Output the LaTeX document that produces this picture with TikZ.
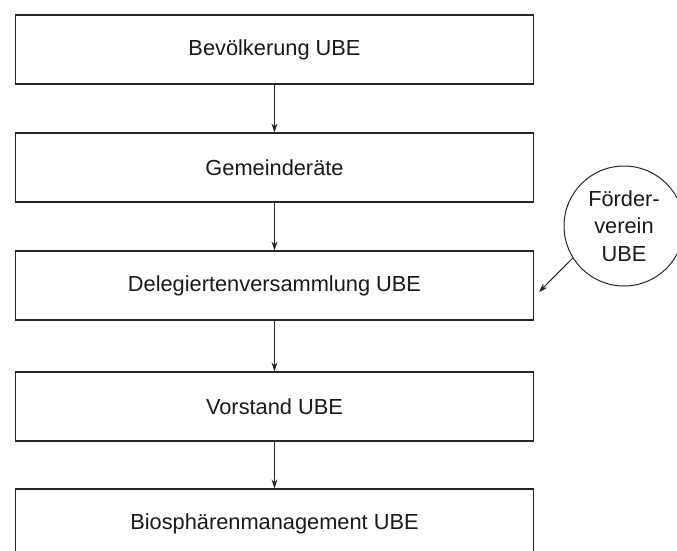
\documentclass[tikz,border=0pt]{standalone}
\usepackage{fontspec}
\setmainfont{Liberation Sans}
\usetikzlibrary{arrows.meta}

\tikzset{
	orgbox/.style={draw=black!85, line width=1.2pt, minimum width=517.6pt, minimum height=69pt, inner sep=0pt, text=black!90, font=\fontsize{21.8}{28}\selectfont},
	vereincircle/.style={draw=black!85, line width=1pt, circle, minimum size=120pt, inner sep=0pt, align=center, text=black!90, font=\fontsize{21.8}{27.5}\selectfont},
	flow/.style={draw=black!85, line width=1pt, -{Stealth[length=9pt, width=6pt]}}
}

\begin{document}
\begin{tikzpicture}[x=1pt, y=-1pt]
	\useasboundingbox (0, 0) rectangle (677, 550);

	%nodes
	\node [orgbox] (bev) at (274.5, 49.5) {Bevölkerung UBE};
	\node [orgbox] (gem) at (274.5, 167.5) {Gemeinderäte};
	\node [orgbox] (del) at (274.5, 285.5) {Delegiertenversammlung UBE};
	\node [orgbox] (vor) at (274.5, 406.5) {Vorstand UBE};
	\node [orgbox] (bio) at (274.5, 523.5) {Biosphärenmanagement UBE};

	\node [vereincircle] (fv) at (624, 226) {Förder-\\verein\\UBE};
	\coordinate (fvend) at (539, 292);

	%paths
	\foreach \a/\b in {bev/gem, gem/del, del/vor, vor/bio}
		\draw [flow] (\a.south) -- (\b.north);

	\draw [flow] (fv.212) -- (fvend);

\end{tikzpicture}
\end{document}
